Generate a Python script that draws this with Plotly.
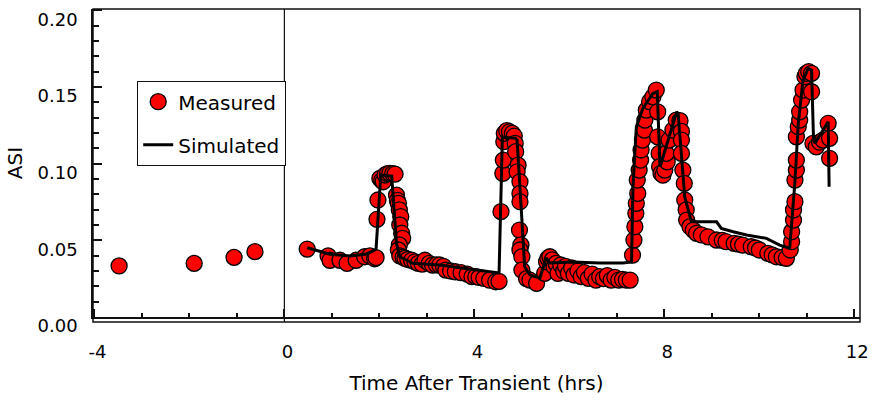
import plotly.graph_objects as go

# Measured ASI (hours after transient, axial shape index)
time_measured = [
    -3.48, -1.90, -1.06, -0.62,
    0.48, 0.92, 0.96, 1.17, 1.32, 1.51, 1.69, 1.80, 1.90, 1.93,
    1.95, 1.97, 2.01, 2.05, 2.08, 2.12, 2.17, 2.22, 2.28, 2.33,
    2.36, 2.38, 2.40, 2.42, 2.45, 2.43, 2.47, 2.49, 2.42, 2.40, 2.43,
    2.50, 2.54, 2.60, 2.68, 2.75, 2.82, 2.90, 2.96, 3.05, 3.12, 3.20, 3.27,
    3.35, 3.40, 3.50, 3.60, 3.72, 3.85, 3.95, 4.03, 4.10, 4.20, 4.32, 4.45, 4.52,
    4.56, 4.60, 4.61, 4.62, 4.63, 4.68, 4.74, 4.80, 4.84, 4.86, 4.87, 4.92,
    4.90, 4.96, 4.96, 4.96, 4.95, 4.98, 4.96, 5.00, 5.00, 5.10, 5.17, 5.31,
    5.48, 5.52, 5.55, 5.59, 5.64, 5.68, 5.72, 5.76, 5.82, 5.88, 5.92, 5.98,
    6.05, 6.10, 6.18, 6.25, 6.32, 6.40, 6.48, 6.56, 6.64, 6.72, 6.80, 6.88,
    6.96, 7.04, 7.12, 7.20, 7.28,
    7.33, 7.36, 7.38, 7.40, 7.41, 7.44, 7.43, 7.47, 7.50, 7.51, 7.54, 7.58,
    7.59, 7.62, 7.69, 7.76, 7.83, 7.86, 7.86, 7.89, 7.90, 7.93, 7.97, 8.01,
    8.06, 8.04, 8.10, 8.18, 8.25, 8.33, 8.36, 8.36, 8.36, 8.39, 8.42, 8.43,
    8.46, 8.47, 8.54, 8.61, 8.68,
    8.78, 8.92, 9.10, 9.22, 9.30, 9.47, 9.56, 9.65, 9.83, 9.92, 10.00, 10.18,
    10.27, 10.36, 10.48, 10.57,
    10.65, 10.68, 10.68, 10.72, 10.72, 10.75, 10.75, 10.78, 10.78, 10.78,
    10.82, 10.85, 10.85, 10.89, 10.92, 10.96, 10.99, 11.04, 11.10, 11.10,
    11.13, 11.20, 11.27, 11.34, 11.45, 11.48, 11.48,
]
asi_measured = [
    0.0333, 0.0350, 0.0389, 0.0426,
    0.0443, 0.0398, 0.0370, 0.0370, 0.0350, 0.0370, 0.0393, 0.0398, 0.0380, 0.0387,
    0.0637, 0.0763, 0.0904, 0.0890, 0.0882, 0.0926, 0.0935, 0.0937, 0.0935, 0.0932,
    0.0795, 0.0760, 0.0741, 0.0698, 0.0654, 0.0600, 0.0546, 0.0513, 0.0470, 0.0437, 0.0398,
    0.0390, 0.0383, 0.0375, 0.0370, 0.0360, 0.0350, 0.0345, 0.0370, 0.0350, 0.0339, 0.0340, 0.0339,
    0.0330, 0.0306, 0.0300, 0.0295, 0.0290, 0.0280, 0.0263, 0.0263, 0.0258, 0.0252, 0.0240, 0.0230, 0.0232,
    0.0687, 0.0937, 0.1023, 0.1143, 0.1198, 0.1215, 0.1208, 0.1198, 0.1180, 0.1132, 0.1078, 0.0990,
    0.0947, 0.0882, 0.0806, 0.0752, 0.0567, 0.0470, 0.0437, 0.0393, 0.0306, 0.0250, 0.0241, 0.0220,
    0.0285, 0.0360, 0.0383, 0.0393, 0.0372, 0.0328, 0.0350, 0.0285, 0.0339, 0.0300, 0.0330, 0.0285,
    0.0320, 0.0274, 0.0300, 0.0263, 0.0290, 0.0252, 0.0280, 0.0241, 0.0263, 0.0250, 0.0270, 0.0241,
    0.0258, 0.0241, 0.0245, 0.0241, 0.0241,
    0.0404, 0.0502, 0.0589, 0.0676, 0.0741, 0.0806, 0.0893, 0.0958, 0.1023, 0.1089, 0.1154, 0.1219,
    0.1284, 0.1349, 0.1404, 0.1436, 0.1480, 0.1338, 0.1175, 0.1067, 0.0980, 0.0937, 0.0925, 0.0958,
    0.1012, 0.1067, 0.1154, 0.1219, 0.1284, 0.1280, 0.1210, 0.1154, 0.1067, 0.0958, 0.0872, 0.0763,
    0.0698, 0.0632, 0.0589, 0.0567, 0.0546,
    0.0535, 0.0523, 0.0502, 0.0500, 0.0491, 0.0480, 0.0475, 0.0469, 0.0458, 0.0450, 0.0437, 0.0415,
    0.0405, 0.0393, 0.0388, 0.0383,
    0.0437, 0.0491, 0.0556, 0.0632, 0.0698, 0.0752, 0.0893, 0.0958, 0.1023, 0.1175,
    0.1241, 0.1284, 0.1338, 0.1415, 0.1480, 0.1567, 0.1589, 0.1600, 0.1589, 0.1469,
    0.1132, 0.1110, 0.1140, 0.1154, 0.1263, 0.1165, 0.1035,
]

# Simulated ASI
time_simulated = [
    0.48, 0.96, 1.38, 1.73, 1.93, 2.03, 2.26, 2.33, 2.36, 2.43, 2.71, 3.27,
    3.84, 4.50, 4.52, 4.59, 4.87, 4.90, 5.06, 5.17, 5.38, 5.51, 5.59, 6.07,
    6.64, 7.13, 7.31, 7.34, 7.41, 7.55, 7.76, 7.85, 7.91, 8.26, 8.29, 8.43,
    8.57, 9.10, 9.20, 9.45, 9.73, 10.15, 10.43, 10.64, 10.71, 10.75, 10.82,
    10.92, 11.03, 11.10, 11.14, 11.17, 11.45, 11.47,
]
asi_simulated = [
    0.0452, 0.0409, 0.0398, 0.0411, 0.0441, 0.0926, 0.0919, 0.0611, 0.0480, 0.0393, 0.0350, 0.0339,
    0.0317, 0.0290, 0.0287, 0.1175, 0.1165, 0.1154, 0.0328, 0.0274, 0.0254, 0.0385, 0.0352, 0.0359,
    0.0352, 0.0352, 0.0359, 0.0849, 0.1240, 0.1362, 0.1458, 0.1469, 0.0980, 0.1338, 0.1328, 0.0784,
    0.0621, 0.0621, 0.0578, 0.0556, 0.0535, 0.0513, 0.0469, 0.0448, 0.0709, 0.0882, 0.1263,
    0.1545, 0.1621, 0.1610, 0.1175, 0.1132, 0.1273, 0.0849,
]

x_ticks = [-4, 0, 4, 8, 12]
y_ticks = [0.00, 0.05, 0.10, 0.15, 0.20]

FONT = "DejaVu Sans"

fig = go.Figure()
fig.add_trace(go.Scatter(
    x=time_measured, y=asi_measured, mode="markers", name="Measured",
    legendgroup="m",
    marker=dict(size=16, color="#ff0000", line=dict(color="#000000", width=1.3)),
))
fig.add_trace(go.Scatter(
    x=time_simulated, y=asi_simulated, mode="lines", name="Simulated",
    legendgroup="s",
    line=dict(color="#000000", width=3),
))

# outer frame (extends a little below the zero line) and the t = 0 marker line
fig.add_shape(type="rect", xref="paper", yref="paper", x0=0, x1=1, y0=-5 / 308, y1=1,
              line=dict(color="#111111", width=1.5), layer="above")
fig.add_shape(type="line", xref="x", yref="paper", x0=0, x1=0, y0=-5 / 308, y1=1,
              line=dict(color="#111111", width=1.2), layer="above")

fig.update_layout(
    width=878, height=410, autosize=False,
    margin=dict(l=93, r=18, t=9, b=93),
    paper_bgcolor="white", plot_bgcolor="white",
    font=dict(family=FONT, size=18, color="#000000"),
    showlegend=True,
    legend=dict(
        x=(137 - 93) / 767, y=(317 - 81) / 308, xanchor="left", yanchor="top",
        bgcolor="white", bordercolor="#111111", borderwidth=1.2,
        font=dict(family=FONT, size=20, color="#000000"),
        tracegroupgap=14, itemwidth=30,
    ),
    xaxis=dict(
        range=[-4.03, 12.12], tickvals=x_ticks, ticktext=[str(v) for v in x_ticks],
        ticks="inside", ticklen=8, tickwidth=1.5, tickcolor="#111111",
        minor=dict(dtick=1, tick0=0, ticks="inside", ticklen=4, tickwidth=1.5, tickcolor="#111111"),
        showline=True, linecolor="#111111", linewidth=1.5,
        showgrid=False, zeroline=False,
        tickfont=dict(size=18), ticklabelstandoff=18, ticklabelshift=3,
        title=dict(text="Time After Transient (hrs)", font=dict(size=20), standoff=15),
    ),
    yaxis=dict(
        range=[0, 0.20085], tickvals=y_ticks, tickformat=".2f",
        ticks="inside", ticklen=9, tickwidth=1.5, tickcolor="#111111",
        minor=dict(dtick=0.01, tick0=0, ticks="inside", ticklen=6, tickwidth=1.5, tickcolor="#111111"),
        showline=True, linecolor="#111111", linewidth=1.5,
        showgrid=False, zeroline=False,
        tickfont=dict(size=18), ticklabelstandoff=10, ticklabelshift=9,
        title=dict(text="ASI", font=dict(size=20), standoff=10),
    ),
)

fig.write_html("out.html")
